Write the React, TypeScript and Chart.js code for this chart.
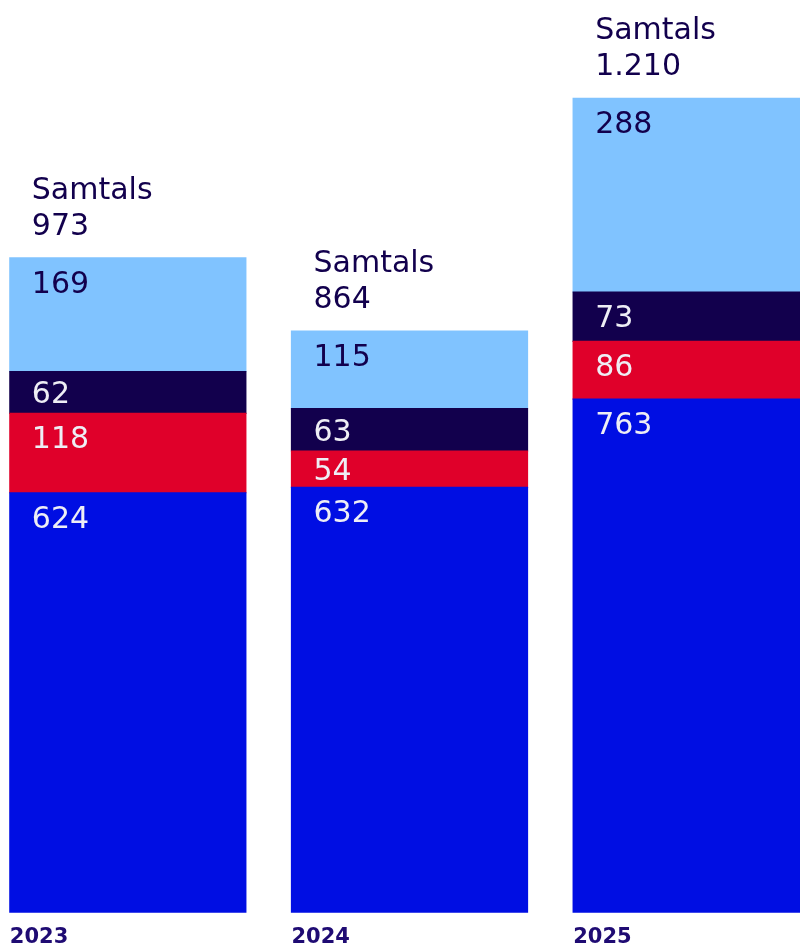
import React, { useEffect, useRef } from "react";
import { Chart, registerables } from "chart.js";

Chart.register(...registerables);

const categories = ["2023", "2024", "2025"];
const seriesBlue = [624, 632, 763];
const seriesRed = [118, 54, 86];
const seriesNavy = [62, 63, 73];
const seriesLight = [169, 115, 288];
const totalLabels = ["973", "864", "1.210"];
const totalTitle = "Samtals";

const COLORS = {
  blue: "#000EE3",
  red: "#E0002A",
  navy: "#12004D",
  light: "#80C3FF",
};

const FONT = "'DejaVu Sans', sans-serif";

const labelPlugin = {
  id: "stackLabels",
  afterDatasetsDraw(chart: any) {
    const ctx = chart.ctx;
    ctx.save();
    ctx.font = `30px ${FONT}`;
    ctx.textAlign = "left";
    ctx.textBaseline = "alphabetic";
    const n = chart.data.datasets.length;
    chart.data.datasets.forEach((ds: any, di: number) => {
      const meta = chart.getDatasetMeta(di);
      meta.data.forEach((bar: any, i: number) => {
        const top = Math.min(bar.y, bar.base);
        const bottom = Math.max(bar.y, bar.base);
        const center = (top + bottom) / 2;
        const left = bar.x - bar.width / 2;
        const yText = Math.min(top + 35, center + 11);
        ctx.fillStyle = ds.labelColor;
        ctx.fillText(String(ds.data[i]), left + 22, yText);
        if (di === n - 1) {
          ctx.fillStyle = COLORS.navy;
          ctx.fillText(totalLabels[i], left + 22, top - 23);
          ctx.fillText(totalTitle, left + 22, top - 59);
        }
      });
    });
    ctx.restore();
  },
};

export default function App() {
  const ref = useRef<HTMLCanvasElement>(null);
  useEffect(() => {
    if (!ref.current) return;
    const chart = new Chart(ref.current, {
      type: "bar",
      data: {
        labels: categories,
        datasets: [
          { data: seriesBlue, backgroundColor: COLORS.blue, labelColor: "#EEEEF5" } as any,
          { data: seriesRed, backgroundColor: COLORS.red, labelColor: "#EEEEF5" } as any,
          { data: seriesNavy, backgroundColor: COLORS.navy, labelColor: "#EEEEF5" } as any,
          { data: seriesLight, backgroundColor: COLORS.light, labelColor: COLORS.navy } as any,
        ],
      },
      options: {
        responsive: false,
        animation: false,
        devicePixelRatio: 1,
        layout: { padding: 0 },
        datasets: {
          bar: { barPercentage: 0.838, categoryPercentage: 1, borderWidth: 0, inflateAmount: 0.6 },
        },
        plugins: { legend: { display: false }, tooltip: { enabled: false } },
        scales: {
          x: {
            stacked: true,
            grid: { display: false, drawTicks: false },
            border: { display: false },
            ticks: {
              align: "start",
              labelOffset: -118,
              padding: 12,
              maxRotation: 0,
              autoSkip: false,
              color: "#1F0B73",
              font: { family: FONT, size: 21, weight: "bold", lineHeight: 1.2 },
            },
          },
          y: {
            stacked: true,
            display: false,
            min: 0,
            max: 1356,
          },
        },
      },
      plugins: [labelPlugin],
    });
    return () => chart.destroy();
  }, []);
  return (
    <div
      style={{
        position: "fixed",
        left: 0,
        top: 0,
        width: 800,
        height: 945,
        overflow: "hidden",
        background: "#fff",
      }}
    >
      <canvas
        ref={ref}
        width={845}
        height={962}
        style={{ position: "absolute", left: -13, top: 0, width: 845, height: 962 }}
      />
    </div>
  );
}
